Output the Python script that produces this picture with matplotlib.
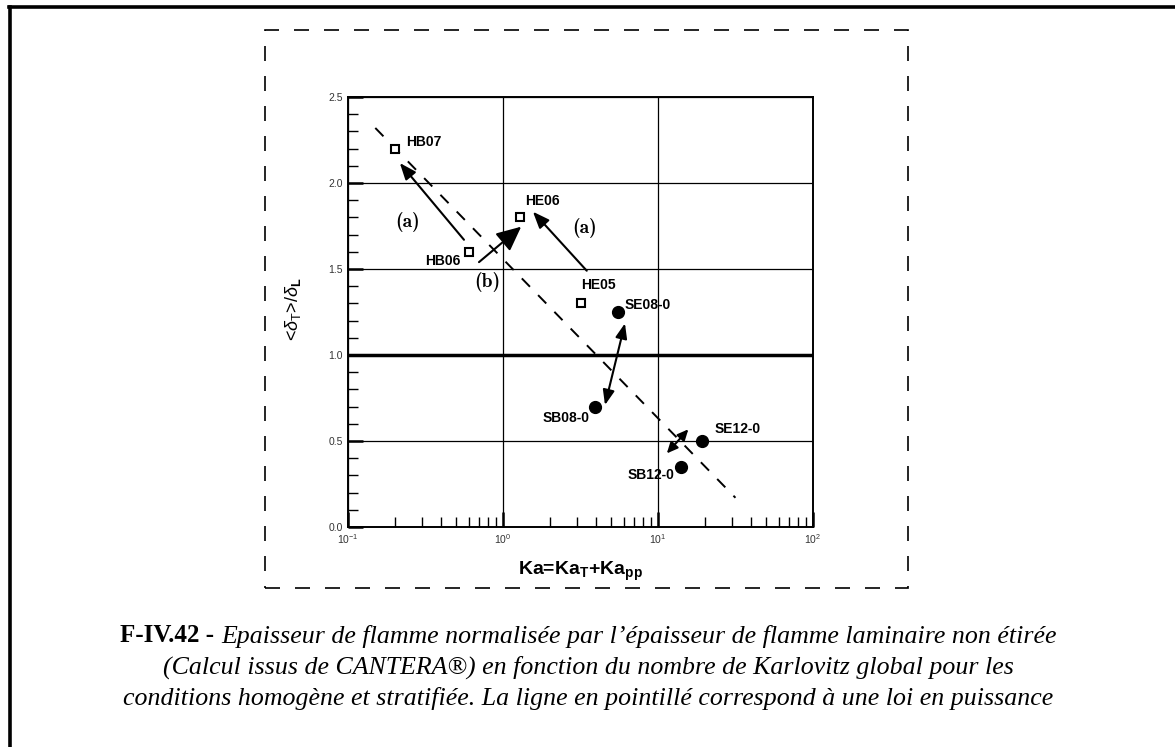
import matplotlib
matplotlib.use("Agg")
import matplotlib.pyplot as plt
from matplotlib.lines import Line2D
from matplotlib.patches import Rectangle
from matplotlib.ticker import LogLocator, MultipleLocator, NullFormatter, FormatStrFormatter

plt.rcParams['font.family'] = ['Liberation Sans', 'DejaVu Sans']
plt.rcParams['mathtext.fontset'] = 'custom'
plt.rcParams['mathtext.rm'] = 'Liberation Sans'
plt.rcParams['mathtext.it'] = 'Liberation Sans:italic'
plt.rcParams['mathtext.bf'] = 'Liberation Sans:bold'

# homogeneous cases (open squares)
homo_names = ['HB07', 'HB06', 'HE06', 'HE05']
homo_ka = [0.20, 0.60, 1.29, 3.18]
homo_delta = [2.20, 1.60, 1.80, 1.30]

# stratified cases (filled circles)
strat_names = ['SE08-0', 'SB08-0', 'SE12-0', 'SB12-0']
strat_ka = [5.5, 3.93, 19.3, 14.1]
strat_delta = [1.25, 0.70, 0.50, 0.35]

# power law fit (dashed)
fit_ka = [0.15, 31.6]
fit_delta = [2.32, 0.17]

# label anchors: (x, y, ha)
homo_labels = [(0.237, 2.24, 'left'), (0.528, 1.548, 'right'),
               (1.39, 1.897, 'left'), (3.18, 1.407, 'left')]
strat_labels = [(6.12, 1.29, 'left'), (3.6, 0.632, 'right'),
                (23.1, 0.568, 'left'), (12.7, 0.30, 'right')]

# arrows: (tail, head, style)
arrows = [
    ((0.56, 1.67), (0.216, 2.116), 'single'),
    ((0.70, 1.54), (1.31, 1.746), 'big'),
    ((3.47, 1.49), (1.56, 1.833), 'single'),
    ((6.12, 1.184), (4.55, 0.709), 'double'),
    ((15.7, 0.568), (11.4, 0.428), 'small_double'),
]
arrow_texts = [('(a)', 0.244, 1.775), ('(a)', 3.38, 1.737), ('(b)', 0.79, 1.426)]

fig = plt.figure(figsize=(11.75, 7.47), dpi=100)
ax = fig.add_axes([348 / 1175, 1 - 527 / 747, 465 / 1175, 430 / 747])

ax.set_xscale('log')
ax.set_xlim(0.1, 100)
ax.set_ylim(0, 2.5)

ax.yaxis.set_major_locator(MultipleLocator(0.5))
ax.yaxis.set_minor_locator(MultipleLocator(0.1))
ax.xaxis.set_major_locator(LogLocator(base=10))
ax.xaxis.set_minor_locator(LogLocator(base=10, subs=range(2, 10)))
ax.xaxis.set_minor_formatter(NullFormatter())
ax.yaxis.set_major_formatter(FormatStrFormatter('%.1f'))

ax.grid(True, which='major', color='black', lw=0.9)
ax.axhline(1.0, color='black', lw=2.5, zorder=2)
ax.tick_params(which='both', direction='in', top=False, right=False,
               labelsize=7.5, labelcolor='#333333', width=1)
ax.tick_params(which='major', length=11, width=1.8)
ax.tick_params(which='minor', length=7)
ax.tick_params(axis='x', pad=4)
for sp in ax.spines.values():
    sp.set_linewidth(1.4)

ax.plot(fit_ka, fit_delta, color='black', lw=1.4, ls=(0, (6, 6)), zorder=3)

ax.plot(homo_ka, homo_delta, ls='none', marker='s', ms=6, mfc='white',
        mec='black', mew=1.5, zorder=5)
ax.plot(strat_ka, strat_delta, ls='none', marker='o', ms=8.5, color='black', zorder=5)

for name, (x, y, ha) in zip(homo_names, homo_labels):
    ax.text(x, y, name, ha=ha, va='center', fontsize=10, fontweight='bold')
for name, (x, y, ha) in zip(strat_names, strat_labels):
    ax.text(x, y, name, ha=ha, va='center', fontsize=10, fontweight='bold')

styles = {
    'big': '-|>,head_length=1.5,head_width=0.7',
    'double': '<|-|>,head_length=0.9,head_width=0.35',
    'small_double': '<|-|>,head_length=0.65,head_width=0.3',
    'single': '-|>,head_length=1.0,head_width=0.4',
}
for tail, head, kind in arrows:
    ax.annotate('', xy=head, xytext=tail,
                arrowprops=dict(arrowstyle=styles[kind], color='black', lw=1.5,
                                shrinkA=0, shrinkB=0))

for txt, x, y in arrow_texts:
    ax.text(x, y, txt, ha='center', va='center', fontsize=14, family='cmb10')

ax.set_xlabel(r'Ka=Ka$_\mathbf{T}$+Ka$_\mathbf{pp}$', fontsize=14, fontweight='bold')
ax.xaxis.set_label_coords(0.5, (527 - 560) / 430)
ax.set_ylabel(r'<$\delta_\mathrm{T}$>/$\delta_\mathbf{L}$', fontsize=13)
ax.yaxis.set_label_coords((303 - 348) / 465, 1 - (309 - 97) / 430)

# dashed frame around the graph
fig.patches.append(Rectangle((265 / 1175, 1 - 588 / 747), 643 / 1175, 558 / 747,
                             transform=fig.transFigure, fill=False, ec='black',
                             lw=1.2, ls=(0, (9, 9))))
# page border
fig.add_artist(Line2D([9 / 1175, 1], [1 - 7 / 747] * 2, transform=fig.transFigure,
                      color='black', lw=2.6))
fig.add_artist(Line2D([10 / 1175] * 2, [0, 1 - 7 / 747], transform=fig.transFigure,
                      color='black', lw=2.6))

# caption
cap = dict(family='Liberation Serif', style='italic', fontsize=18.6, va='center')
fig.text(214 / 1175, 1 - 636 / 747, 'F-IV.42 -', family='Liberation Serif',
         fontweight='bold', fontsize=18, va='center', ha='right')
fig.text(221 / 1175, 1 - 636 / 747,
         'Epaisseur de flamme normalisée par l’épaisseur de flamme laminaire non étirée',
         ha='left', **cap)
fig.text(588 / 1175, 1 - 667 / 747,
         '(Calcul issus de CANTERA®) en fonction du nombre de Karlovitz global pour les',
         ha='center', **cap)
fig.text(588 / 1175, 1 - 699 / 747,
         'conditions homogène et stratifiée. La ligne en pointillé correspond à une loi en puissance',
         ha='center', **cap)

fig.savefig('out.png', dpi=100)
